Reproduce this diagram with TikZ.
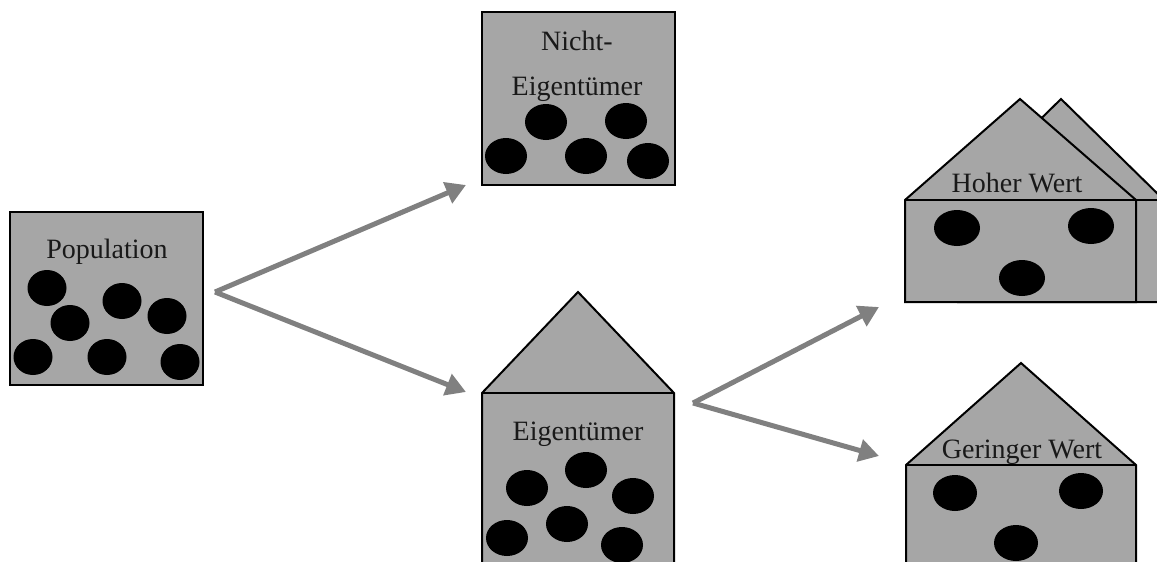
\documentclass[tikz,border=0pt]{standalone}
\usepackage{fontspec}
\setmainfont{Liberation Serif}
\usetikzlibrary{arrows.meta}
\definecolor{boxgray}{RGB}{166,166,166}
\definecolor{arrowgray}{RGB}{128,128,128}
\tikzset{
  shell/.style={draw=black, line width=2pt, fill=boxgray, line join=miter},
  dot/.style={fill=black},
  label/.style={anchor=base, font=\fontsize{28}{34}\selectfont, text=black!90, inner sep=0pt},
  flow/.style={draw=arrowgray, line width=5pt, -{Triangle[length=20pt,width=22pt]}},
}
\begin{document}
\begin{tikzpicture}[x=1pt,y=-1pt]
\useasboundingbox (0,0) rectangle (1157,562);
\clip (0,0) rectangle (1157,562);

% Population
\node[shell, minimum width=193pt, minimum height=173pt, inner sep=0pt] (pop) at (106.5,298.5) {};
\node[label] (poptxt) at (107,258) {Population};
\foreach \x/\y in {47/288, 70/323, 122/301, 167/316, 33/357, 107/357, 180/362}
  \fill[dot] (\x,\y) ellipse [x radius=19.5, y radius=18];

% Nicht-Eigentümer
\node[shell, minimum width=193pt, minimum height=173pt, inner sep=0pt] (non) at (578.5,98.5) {};
\node[label] (nontxt1) at (577,50) {Nicht-};
\node[label] (nontxt2) at (577,95) {Eigentümer};
\foreach \x/\y in {546/122, 626/121, 506/156, 586/156, 648/161}
  \fill[dot] (\x,\y) ellipse [x radius=21, y radius=18];

% Eigentümer house
\draw[shell] (482,575) -- (482,393) -- (578,292) -- (674,393) -- (674,575);
\draw[line width=2pt] (482,393) -- (674,393);
\coordinate (own) at (578,393);
\node[label] (owntxt) at (578,440) {Eigentümer};
\foreach \x/\y in {527/488, 586/470, 633/496, 507/538, 567/524, 622/545}
  \fill[dot] (\x,\y) ellipse [x radius=21, y radius=18];

% Hoher Wert: two houses, one behind the other
\draw[shell] (958,302) -- (958,200) -- (1061,99) -- (1164,200) -- (1164,302) -- cycle;
\draw[line width=2pt] (958,200) -- (1164,200);
\draw[shell] (905,302) -- (905,200) -- (1020,99) -- (1136,200) -- (1136,302) -- cycle;
\draw[line width=2pt] (905,200) -- (1136,200);
\node[label] (hightxt) at (1017,192) {Hoher Wert};
\foreach \x/\y in {957/228, 1091/226, 1022/278}
  \fill[dot] (\x,\y) ellipse [x radius=23, y radius=18];

% Geringer Wert house
\draw[shell] (906,575) -- (906,465) -- (1021,363) -- (1136,465) -- (1136,575);
\draw[line width=2pt] (906,465) -- (1136,465);
\node[label] (lowtxt) at (1022,458) {Geringer Wert};
\foreach \x/\y in {955/493, 1081/491, 1016/543}
  \fill[dot] (\x,\y) ellipse [x radius=22, y radius=18];

% branching arrows
\coordinate (fork1) at (215,292);
\coordinate (tipnon) at (466,185);
\coordinate (tipown) at (466,392);
\coordinate (fork2) at (693,403);
\coordinate (tiphigh) at (879,307);
\coordinate (tiplow) at (879,456);
\draw[flow] (fork1) -- (tipnon);
\draw[flow] (fork1) -- (tipown);
\draw[flow] (fork2) -- (tiphigh);
\draw[flow] (fork2) -- (tiplow);
\end{tikzpicture}
\end{document}
